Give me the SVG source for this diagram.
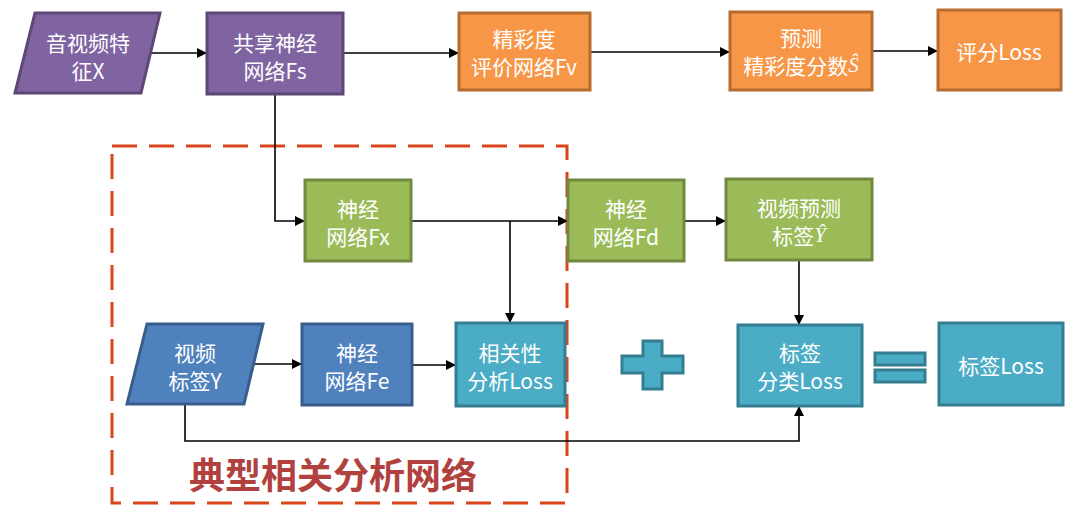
<svg xmlns="http://www.w3.org/2000/svg" width="1071" height="512" viewBox="0 0 1071 512">
<style>
.t{font-family:"Noto Sans CJK SC","Noto Sans",sans-serif;font-size:21px;fill:#ffffff;text-anchor:middle;dominant-baseline:central}
.m{font-family:"Liberation Serif",serif;font-style:italic}
.pu{fill:#8064A2;stroke:#5C4776;stroke-width:3}
.or{fill:#F79646;stroke:#B66D31;stroke-width:3}
.gr{fill:#9BBB59;stroke:#71893F;stroke-width:3}
.bl{fill:#4F81BD;stroke:#385D8A;stroke-width:3}
.te{fill:#4BACC6;stroke:#357D91;stroke-width:3}
.c{fill:none;stroke:#000;stroke-width:1.6}
</style>
<defs>
<marker id="ah" markerWidth="10" markerHeight="10" refX="9" refY="5" orient="auto" markerUnits="userSpaceOnUse">
<path d="M0,0 L10,5 L0,10 z" fill="#000"/>
</marker>
</defs>

<g id="cca-frame">
<rect x="112" y="146" width="455" height="357" fill="none" stroke="#D9441A" stroke-width="3" stroke-dasharray="25,12"/>
<text x="333" y="473" style="font-family:'Noto Sans CJK SC',sans-serif;font-size:36px;font-weight:bold;fill:#B0413E;text-anchor:middle;dominant-baseline:central">典型相关分析网络</text>
</g>

<g id="connectors">
<path class="c" d="M150,53 H206" marker-end="url(#ah)"/>
<path class="c" d="M343,53 H458" marker-end="url(#ah)"/>
<path class="c" d="M590,52 H729" marker-end="url(#ah)"/>
<path class="c" d="M872,51 H937" marker-end="url(#ah)"/>
<path class="c" d="M275,94 V221 H304" marker-end="url(#ah)"/>
<path class="c" d="M411,221 H567" marker-end="url(#ah)"/>
<path class="c" d="M510,221 V322" marker-end="url(#ah)"/>
<path class="c" d="M684,221 H725" marker-end="url(#ah)"/>
<path class="c" d="M799,261 V324" marker-end="url(#ah)"/>
<path class="c" d="M250,364 H301" marker-end="url(#ah)"/>
<path class="c" d="M412,365 H455" marker-end="url(#ah)"/>
<path class="c" d="M185,404 V441 H799 V407" marker-end="url(#ah)"/>
</g>

<g id="node-x">
<polygon class="pu" points="35,13 160,13 141,93 15,93"/>
<text class="t" x="88" y="42">音视频特</text>
<text class="t" x="88" y="70">征X</text>
</g>
<g id="node-fs">
<rect class="pu" x="207" y="13" width="136" height="81"/>
<text class="t" x="275" y="42">共享神经</text>
<text class="t" x="275" y="70">网络Fs</text>
</g>
<g id="node-fv">
<rect class="or" x="459" y="13" width="131" height="77"/>
<text class="t" x="524" y="38">精彩度</text>
<text class="t" x="524" y="66">评价网络Fv</text>
</g>
<g id="node-s">
<rect class="or" x="730" y="12" width="142" height="78"/>
<text class="t" x="801" y="37">预测</text>
<text class="t" x="801" y="65">精彩度分数<tspan class="m">Ŝ</tspan></text>
</g>
<g id="node-score-loss">
<rect class="or" x="938" y="10" width="123" height="80"/>
<text class="t" x="999" y="51">评分Loss</text>
</g>
<g id="node-fx">
<rect class="gr" x="305" y="180" width="106" height="81"/>
<text class="t" x="358" y="208">神经</text>
<text class="t" x="358" y="236">网络Fx</text>
</g>
<g id="node-fd">
<rect class="gr" x="568" y="180" width="116" height="81"/>
<text class="t" x="626" y="208">神经</text>
<text class="t" x="626" y="236">网络Fd</text>
</g>
<g id="node-yhat">
<rect class="gr" x="726" y="179" width="146" height="81"/>
<text class="t" x="799" y="207">视频预测</text>
<text class="t" x="799" y="235">标签<tspan class="m">Ŷ</tspan></text>
</g>
<g id="node-y">
<polygon class="bl" points="147,324 263,324 244,404 127,404"/>
<text class="t" x="195" y="352">视频</text>
<text class="t" x="195" y="380">标签Y</text>
</g>
<g id="node-fe">
<rect class="bl" x="302" y="324" width="110" height="81"/>
<text class="t" x="357" y="352">神经</text>
<text class="t" x="357" y="380">网络Fe</text>
</g>
<g id="node-corr-loss">
<rect class="te" x="456" y="323" width="109" height="83"/>
<text class="t" x="510" y="352">相关性</text>
<text class="t" x="510" y="380">分析Loss</text>
</g>
<g id="node-plus">
<polygon class="te" points="643,341 662,341 662,356 683,356 683,373 662,373 662,389 643,389 643,373 622,373 622,356 643,356"/>
</g>
<g id="node-cls-loss">
<rect class="te" x="738" y="325" width="124" height="81"/>
<text class="t" x="800" y="352">标签</text>
<text class="t" x="800" y="380">分类Loss</text>
</g>
<g id="node-equals">
<rect class="te" x="875" y="353" width="50" height="12"/>
<rect class="te" x="875" y="370" width="50" height="12"/>
</g>
<g id="node-label-loss">
<rect class="te" x="939" y="323" width="124" height="82"/>
<text class="t" x="1001" y="365">标签Loss</text>
</g>
</svg>
